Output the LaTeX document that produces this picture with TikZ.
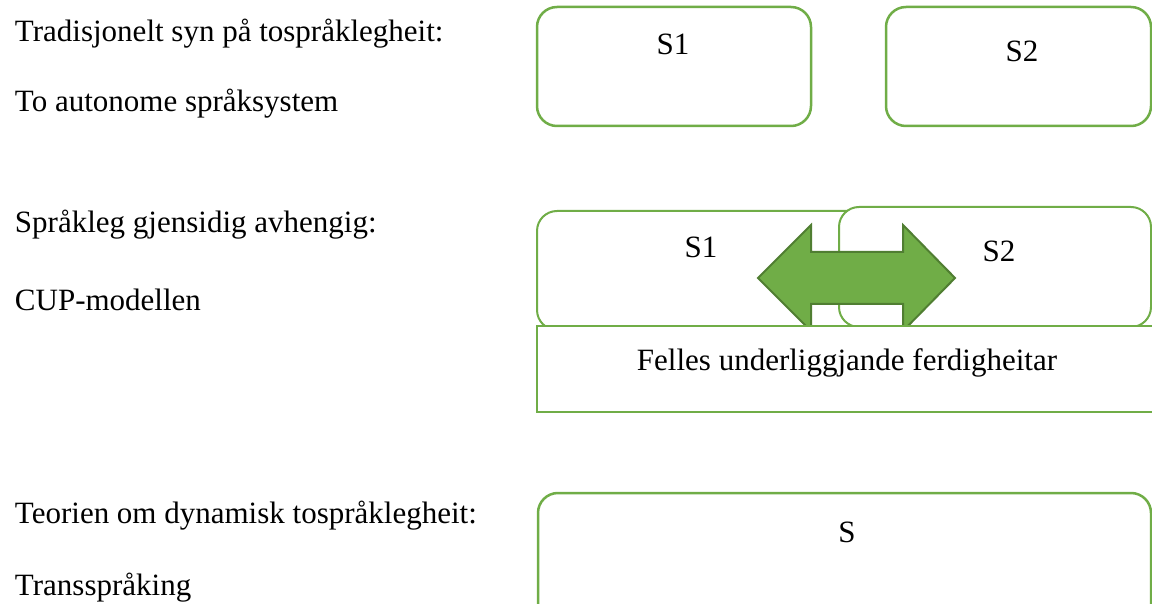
\documentclass[tikz,border=0pt]{standalone}
\usepackage{fontspec}
\setmainfont{Liberation Serif}
\definecolor{boxgreen}{HTML}{70AD47}
\definecolor{edgegreen}{HTML}{507E32}
\begin{document}
\begin{tikzpicture}[x=1pt,y=-1pt,
  every node/.style={font=\fontsize{31}{37}\selectfont, inner sep=0pt, outer sep=0pt},
  lbl/.style={anchor=base west},
  ctr/.style={anchor=base},
  rbox/.style={draw=boxgreen, line width=2.5pt, rounded corners=20pt, fill=white},
  thinbox/.style={draw=boxgreen, line width=2pt, rounded corners=20pt, fill=white},
  sqbox/.style={draw=boxgreen, line width=2pt, fill=white},
  dblarrow/.style={fill=boxgreen, draw=edgegreen, line width=2pt, line join=miter}]
\useasboundingbox (0,0) rectangle (1152,604);
\clip (0,0) rectangle (1152,604);

% left column labels
\node[lbl] (l1a) at (15,42) {Tradisjonelt syn på tospråklegheit:};
\node[lbl] (l1b) at (15,112) {To autonome språksystem};
\node[lbl] (l2a) at (15,233) {Språkleg gjensidig avhengig:};
\node[lbl] (l2b) at (15,310) {CUP-modellen};
\node[lbl] (l3a) at (15,523) {Teorien om dynamisk tospråklegheit:};
\node[lbl] (l3b) at (15,595) {Transspråking};

% row 1
\node[rbox, minimum width=274pt, minimum height=119pt] (b1) at (674,66.5) {};
\node[rbox, minimum width=265pt, minimum height=119pt] (b2) at (1018.5,66.5) {};
\node[ctr] (t1) at (673,55) {S1};
\node[ctr] (t2) at (1022,62) {S2};

% row 2
\node[thinbox, minimum width=463pt, minimum height=119pt] (m1) at (768.5,270.5) {};
\node[thinbox, minimum width=312pt, minimum height=120pt] (m2) at (995,267) {};
\node[ctr] (u1) at (701,258) {S1};
\node[ctr] (u2) at (999,262) {S2};
\draw[dblarrow] (758,278) -- (811,225) -- (811,252) -- (903,252) -- (903,225)
  -- (955,278) -- (903,331) -- (903,304) -- (811,304) -- (811,331) -- cycle;
\node[sqbox, minimum width=633pt, minimum height=86pt] (f) at (853.5,369) {};
\node[ctr] (ft) at (847,370) {Felles underliggjande ferdigheitar};

% row 3
\node[rbox, minimum width=613pt, minimum height=147pt] (s) at (844.5,566.5) {};
\node[ctr] (st) at (847,542) {S};
\end{tikzpicture}
\end{document}
